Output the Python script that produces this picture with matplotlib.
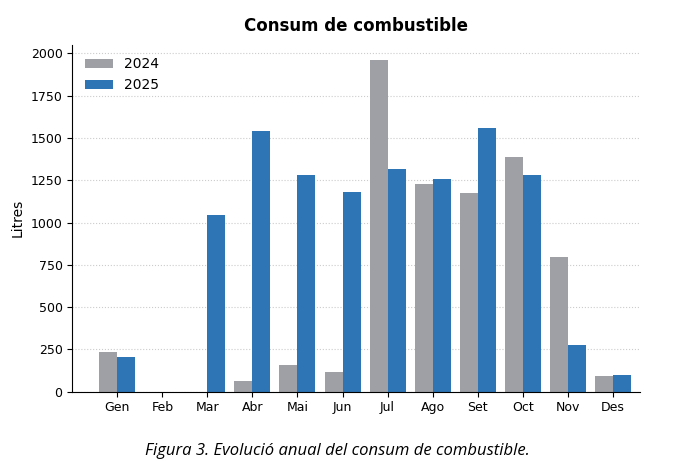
import matplotlib
matplotlib.use("Agg")
import matplotlib.pyplot as plt
import numpy as np

months = ["Gen","Feb","Mar","Abr","Mai","Jun","Jul","Ago","Set","Oct","Nov","Des"]
v2024 = [232, 0, 0, 65, 160, 119, 1958, 1226, 1173, 1387, 798, 95]
v2025 = [208, 0, 1042, 1542, 1280, 1179, 1315, 1256, 1560, 1280, 274, 101]

fig = plt.figure(figsize=(6.88, 4.72), dpi=100)
ax = fig.add_axes([0.105, 0.17, 0.825, 0.735])
x = np.arange(len(months))
w = 0.4
ax.bar(x - w/2, v2024, w, color="#9ea0a5", label="2024", zorder=2)
ax.bar(x + w/2, v2025, w, color="#2e75b6", label="2025", zorder=2)
ax.set_xticks(x)
ax.set_xticklabels(months, fontsize=9)
ax.set_ylim(0, 2050)
ax.set_xlim(-1, 11.6)
ax.set_yticks(range(0, 2001, 250))
ax.tick_params(axis="y", labelsize=9)
ax.set_ylabel("Litres", fontsize=10)
ax.set_title("Consum de combustible", fontsize=12, fontweight="bold", pad=10)
ax.grid(axis="y", linestyle=":", color="#cccccc", linewidth=0.8, zorder=0)
for s in ["top", "right"]:
    ax.spines[s].set_visible(False)
ax.legend(loc="upper left", frameon=False, fontsize=10)
fig.text(0.49, 0.035, "Figura 3. Evolució anual del consum de combustible.",
         ha="center", fontsize=12, style="italic", family="Open Sans")
fig.savefig("out.png", dpi=100)
